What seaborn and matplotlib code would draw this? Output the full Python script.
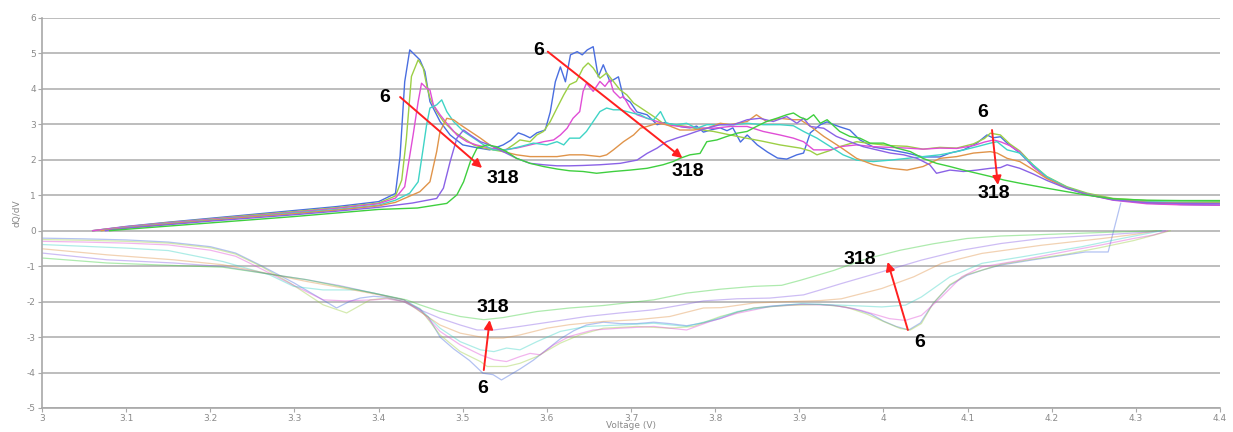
import numpy as np
import pandas as pd
import matplotlib
matplotlib.use("Agg")
import matplotlib.pyplot as plt
import seaborn as sns

# ---------------------------------------------------------------- data
cycles = ["6", "c2", "c3", "c4", "c5", "c6", "318"]
colors = ["#4a6ee0", "#9ccf45", "#e04ed6", "#3fd4c6", "#e0944a", "#8a62e6", "#3fcf3f"]

# charge branch (positive dQ/dV)
chg_v_1 = [3.06, 3.10, 3.15, 3.20, 3.25, 3.30, 3.35, 3.40, 3.42, 3.4255, 3.431, 3.437, 3.449, 3.455, 3.461,
           3.473, 3.485, 3.500, 3.517, 3.532, 3.548, 3.557, 3.566, 3.573, 3.580, 3.588, 3.598, 3.604, 3.610,
           3.616, 3.622, 3.628, 3.636, 3.642, 3.648, 3.655, 3.661, 3.667, 3.675, 3.685, 3.691, 3.699, 3.707,
           3.719, 3.731, 3.740, 3.750, 3.760, 3.770, 3.778, 3.786, 3.796, 3.806, 3.814, 3.821, 3.830, 3.838,
           3.850, 3.862, 3.874, 3.885, 3.897, 3.905, 3.913, 3.925, 3.933, 3.940, 3.948, 3.960, 3.972, 3.988,
           4.008, 4.028, 4.047, 4.067, 4.079, 4.095, 4.111, 4.123, 4.130, 4.139, 4.147, 4.162, 4.178, 4.194,
           4.218, 4.242, 4.273, 4.313, 4.353, 4.40]
chg_q_1 = [0, 0.12, 0.24, 0.35, 0.46, 0.57, 0.68, 0.82, 1.05, 2.1, 4.2, 5.10, 4.82, 4.49, 3.64,
           3.08, 2.70, 2.42, 2.34, 2.28, 2.42, 2.55, 2.76, 2.70, 2.62, 2.76, 2.84, 3.35, 4.2,
           4.62, 4.2, 4.96, 5.05, 4.96, 5.10, 5.19, 4.34, 4.68, 4.2, 4.34, 3.75, 3.63, 3.35,
           3.27, 2.99, 3.05, 2.99, 2.93, 2.90, 2.95, 2.78, 2.85, 2.90, 2.82, 2.90, 2.50, 2.70,
           2.42, 2.22, 2.05, 2.02, 2.14, 2.19, 2.76, 2.99, 3.07, 3.00, 2.93, 2.84, 2.56, 2.36,
           2.28, 2.19, 2.08, 2.08, 2.19, 2.28, 2.47, 2.70, 2.62, 2.65, 2.47, 2.19, 1.81, 1.50,
           1.22, 1.03, 0.88, 0.78, 0.74, 0.72]

chg_v_2 = [3.06, 3.10, 3.15, 3.20, 3.25, 3.30, 3.35, 3.40, 3.42, 3.4275, 3.433, 3.439, 3.447, 3.453, 3.457,
           3.461, 3.469, 3.477, 3.489, 3.501, 3.513, 3.525, 3.536, 3.548, 3.560, 3.568, 3.580, 3.588, 3.596,
           3.604, 3.612, 3.620, 3.627, 3.635, 3.643, 3.649, 3.655, 3.663, 3.671, 3.679, 3.687, 3.695, 3.703,
           3.715, 3.727, 3.738, 3.750, 3.766, 3.782, 3.798, 3.818, 3.837, 3.857, 3.877, 3.901, 3.913, 3.921,
           3.935, 3.948, 3.968, 3.988, 4.008, 4.028, 4.047, 4.067, 4.087, 4.107, 4.120, 4.127, 4.139, 4.150,
           4.162, 4.178, 4.194, 4.218, 4.242, 4.273, 4.313, 4.353, 4.40]
chg_q_2 = [0, 0.11, 0.23, 0.33, 0.44, 0.54, 0.65, 0.78, 0.98, 1.43, 2.6, 4.35, 4.82, 4.59, 4.12,
           3.74, 3.36, 3.08, 2.80, 2.61, 2.42, 2.33, 2.28, 2.23, 2.42, 2.56, 2.51, 2.70, 2.80,
           3.08, 3.46, 3.83, 4.12, 4.21, 4.59, 4.73, 4.59, 4.30, 4.45, 4.21, 3.97, 3.83, 3.60,
           3.41, 3.22, 3.03, 2.99, 2.94, 2.85, 2.80, 2.70, 2.61, 2.52, 2.42, 2.33, 2.25, 2.14,
           2.25, 2.37, 2.51, 2.45, 2.40, 2.38, 2.30, 2.35, 2.33, 2.45, 2.60, 2.75, 2.70, 2.45,
           2.25, 1.85, 1.53, 1.24, 1.06, 0.91, 0.85, 0.84, 0.83]

chg_v_3 = [3.06, 3.10, 3.15, 3.20, 3.25, 3.30, 3.35, 3.40, 3.42, 3.431, 3.441, 3.447, 3.451, 3.457, 3.461,
           3.465, 3.473, 3.481, 3.493, 3.505, 3.516, 3.532, 3.548, 3.564, 3.580, 3.596, 3.608, 3.616, 3.624,
           3.631, 3.639, 3.643, 3.647, 3.655, 3.663, 3.669, 3.675, 3.679, 3.687, 3.691, 3.699, 3.707, 3.719,
           3.731, 3.742, 3.758, 3.770, 3.782, 3.798, 3.818, 3.838, 3.857, 3.877, 3.893, 3.905, 3.917, 3.937,
           3.948, 3.968, 3.988, 4.008, 4.028, 4.047, 4.067, 4.087, 4.107, 4.120, 4.131, 4.140, 4.150, 4.162,
           4.178, 4.194, 4.218, 4.242, 4.273, 4.313, 4.353, 4.40]
chg_q_3 = [0, 0.11, 0.22, 0.32, 0.42, 0.52, 0.63, 0.76, 0.92, 1.24, 2.7, 3.64, 4.16, 4.02, 3.97,
           3.55, 3.27, 3.03, 2.70, 2.51, 2.42, 2.33, 2.28, 2.33, 2.42, 2.51, 2.56, 2.70, 2.89,
           3.17, 3.36, 3.93, 4.16, 3.93, 4.21, 4.07, 4.26, 3.93, 3.74, 3.79, 3.46, 3.27, 3.17,
           3.08, 2.99, 2.94, 2.92, 2.90, 2.89, 2.94, 2.94, 2.80, 2.70, 2.61, 2.51, 2.28, 2.28,
           2.37, 2.42, 2.37, 2.35, 2.33, 2.30, 2.33, 2.32, 2.40, 2.50, 2.56, 2.50, 2.40, 2.22,
           1.80, 1.50, 1.21, 1.02, 0.86, 0.76, 0.73, 0.72]

chg_v_4 = [3.07, 3.10, 3.15, 3.20, 3.25, 3.30, 3.35, 3.40, 3.42, 3.437, 3.447, 3.453, 3.457, 3.461, 3.469,
           3.475, 3.481, 3.489, 3.501, 3.513, 3.525, 3.536, 3.552, 3.568, 3.584, 3.600, 3.612, 3.620, 3.627,
           3.639, 3.647, 3.655, 3.663, 3.671, 3.679, 3.687, 3.695, 3.703, 3.711, 3.719, 3.727, 3.735, 3.742,
           3.754, 3.766, 3.778, 3.790, 3.806, 3.822, 3.838, 3.857, 3.877, 3.893, 3.905, 3.921, 3.937, 3.952,
           3.968, 3.988, 4.008, 4.028, 4.047, 4.067, 4.087, 4.111, 4.127, 4.135, 4.147, 4.162, 4.178, 4.194,
           4.218, 4.242, 4.273, 4.313, 4.353, 4.40]
chg_q_4 = [0, 0.09, 0.20, 0.30, 0.40, 0.50, 0.60, 0.72, 0.86, 1.06, 1.38, 2.33, 2.98, 3.46, 3.55,
           3.69, 3.36, 3.08, 2.80, 2.61, 2.42, 2.28, 2.28, 2.37, 2.47, 2.42, 2.51, 2.42, 2.61,
           2.61, 2.80, 3.08, 3.36, 3.46, 3.41, 3.41, 3.36, 3.31, 3.27, 3.17, 3.13, 3.36, 3.03,
           2.99, 3.03, 2.89, 2.99, 2.99, 2.99, 3.03, 2.99, 2.99, 2.96, 2.80, 2.61, 2.37, 2.14,
           1.99, 1.95, 1.99, 2.04, 2.09, 2.14, 2.23, 2.37, 2.47, 2.51, 2.28, 2.19, 1.85, 1.52,
           1.22, 1.04, 0.89, 0.82, 0.80, 0.80]

chg_v_5 = [3.07, 3.10, 3.15, 3.20, 3.25, 3.30, 3.35, 3.40, 3.42, 3.449, 3.461, 3.469, 3.473, 3.481, 3.489,
           3.497, 3.509, 3.521, 3.532, 3.548, 3.564, 3.580, 3.596, 3.612, 3.627, 3.643, 3.663, 3.671, 3.679,
           3.691, 3.703, 3.711, 3.719, 3.731, 3.742, 3.758, 3.774, 3.790, 3.806, 3.818, 3.838, 3.849, 3.861,
           3.877, 3.893, 3.901, 3.913, 3.929, 3.948, 3.968, 3.988, 4.008, 4.028, 4.047, 4.055, 4.067, 4.087,
           4.107, 4.127, 4.135, 4.147, 4.162, 4.178, 4.194, 4.218, 4.242, 4.273, 4.313, 4.353, 4.40]
chg_q_5 = [0, 0.08, 0.19, 0.29, 0.39, 0.48, 0.58, 0.70, 0.80, 1.10, 1.38, 2.23, 2.80, 3.17, 3.13,
           2.99, 2.80, 2.61, 2.42, 2.23, 2.14, 2.09, 2.09, 2.09, 2.14, 2.14, 2.09, 2.14, 2.28,
           2.51, 2.70, 2.89, 2.94, 3.03, 2.99, 2.84, 2.84, 2.89, 3.03, 2.99, 3.08, 3.27, 3.08,
           3.17, 3.13, 3.13, 2.95, 2.66, 2.37, 2.04, 1.86, 1.76, 1.71, 1.81, 1.90, 2.04, 2.09,
           2.19, 2.23, 2.19, 2.04, 1.95, 1.72, 1.47, 1.20, 1.03, 0.89, 0.80, 0.78, 0.78]

chg_v_6 = [3.075, 3.10, 3.15, 3.20, 3.25, 3.30, 3.35, 3.40, 3.44, 3.469, 3.477, 3.485, 3.493, 3.501, 3.509,
           3.521, 3.532, 3.548, 3.564, 3.580, 3.596, 3.612, 3.627, 3.643, 3.663, 3.687, 3.707, 3.719, 3.731,
           3.742, 3.754, 3.766, 3.778, 3.790, 3.806, 3.822, 3.838, 3.853, 3.869, 3.885, 3.897, 3.905, 3.913,
           3.929, 3.944, 3.960, 3.976, 3.992, 4.008, 4.024, 4.040, 4.055, 4.063, 4.079, 4.095, 4.111, 4.127,
           4.139, 4.147, 4.162, 4.178, 4.194, 4.218, 4.242, 4.273, 4.313, 4.353, 4.40]
chg_q_6 = [0, 0.07, 0.17, 0.27, 0.36, 0.45, 0.55, 0.66, 0.78, 0.91, 1.20, 1.95, 2.61, 2.84, 2.70,
           2.51, 2.42, 2.23, 2.04, 1.90, 1.86, 1.83, 1.83, 1.84, 1.86, 1.90, 1.99, 2.18, 2.33,
           2.51, 2.61, 2.70, 2.80, 2.89, 2.99, 2.99, 3.13, 3.17, 3.08, 3.22, 3.03, 3.17, 2.94,
           2.89, 2.66, 2.51, 2.37, 2.28, 2.19, 2.14, 2.04, 1.86, 1.62, 1.71, 1.67, 1.71, 1.76,
           1.78, 1.86, 1.76, 1.60, 1.42, 1.19, 1.02, 0.87, 0.79, 0.77, 0.76]

chg_v_7 = [3.08, 3.10, 3.15, 3.20, 3.25, 3.30, 3.35, 3.40, 3.446, 3.481, 3.493, 3.501, 3.509, 3.517, 3.529,
           3.540, 3.552, 3.564, 3.580, 3.596, 3.612, 3.627, 3.643, 3.659, 3.679, 3.699, 3.719, 3.738, 3.750,
           3.758, 3.770, 3.782, 3.790, 3.802, 3.814, 3.826, 3.838, 3.849, 3.861, 3.873, 3.885, 3.893, 3.901,
           3.909, 3.917, 3.925, 3.933, 3.948, 3.960, 3.972, 3.984, 4.000, 4.016, 4.032, 4.047, 4.063, 4.079,
           4.095, 4.111, 4.127, 4.143, 4.162, 4.178, 4.194, 4.218, 4.242, 4.273, 4.313, 4.353, 4.40]
chg_q_7 = [0, 0.04, 0.13, 0.22, 0.31, 0.40, 0.50, 0.60, 0.64, 0.77, 1.01, 1.38, 1.95, 2.33, 2.42,
           2.37, 2.23, 2.04, 1.90, 1.81, 1.74, 1.69, 1.67, 1.62, 1.67, 1.71, 1.76, 1.86, 1.95,
           2.04, 2.14, 2.18, 2.51, 2.56, 2.66, 2.75, 2.80, 2.94, 3.08, 3.17, 3.27, 3.32, 3.20,
           3.13, 3.27, 3.03, 3.13, 2.80, 2.66, 2.61, 2.47, 2.47, 2.33, 2.23, 2.04, 1.90, 1.81,
           1.71, 1.62, 1.53, 1.43, 1.34, 1.27, 1.20, 1.10, 1.00, 0.90, 0.86, 0.85, 0.85]

# discharge branch (negative dQ/dV)
dis_v_1 = [3.00, 3.05, 3.10, 3.15, 3.20, 3.23, 3.26, 3.30, 3.33, 3.35, 3.365, 3.378, 3.394, 3.41, 3.43,
           3.445, 3.459, 3.473, 3.489, 3.508, 3.524, 3.536, 3.546, 3.556, 3.568, 3.584, 3.600, 3.616, 3.632,
           3.647, 3.667, 3.687, 3.707, 3.727, 3.746, 3.766, 3.786, 3.806, 3.826, 3.846, 3.865, 3.885, 3.905,
           3.925, 3.945, 3.965, 3.985, 4.000, 4.015, 4.030, 4.044, 4.059, 4.079, 4.099, 4.119, 4.139, 4.178,
           4.218, 4.240, 4.267, 4.282]
dis_q_1 = [-0.21, -0.23, -0.26, -0.32, -0.45, -0.63, -0.98, -1.48, -1.90, -2.18, -2.00, -1.90, -1.85, -1.88, -2.00,
           -2.20, -2.43, -3.00, -3.33, -3.66, -4.02, -4.06, -4.21, -4.07, -3.90, -3.65, -3.35, -3.05, -2.82,
           -2.66, -2.58, -2.62, -2.62, -2.58, -2.62, -2.68, -2.60, -2.48, -2.30, -2.18, -2.13, -2.09, -2.07,
           -2.08, -2.12, -2.20, -2.35, -2.55, -2.70, -2.80, -2.60, -2.05, -1.54, -1.26, -1.10, -0.97, -0.82,
           -0.68, -0.60, -0.60, 0.78]

dis_v_2 = [3.00, 3.05, 3.10, 3.15, 3.20, 3.23, 3.26, 3.295, 3.334, 3.362, 3.39, 3.41, 3.43, 3.449, 3.473,
           3.497, 3.521, 3.529, 3.552, 3.568, 3.588, 3.616, 3.639, 3.667, 3.707, 3.746, 3.774, 3.806, 3.846,
           3.885, 3.925, 3.955, 3.980, 4.000, 4.020, 4.032, 4.045, 4.059, 4.079, 4.099, 4.119, 4.139, 4.178,
           4.218, 4.257, 4.297, 4.341]
dis_q_2 = [-0.25, -0.27, -0.30, -0.35, -0.48, -0.66, -1.00, -1.48, -2.09, -2.32, -1.95, -1.90, -2.00, -2.20, -2.94,
           -3.41, -3.69, -3.83, -3.83, -3.74, -3.55, -3.17, -2.94, -2.75, -2.70, -2.75, -2.70, -2.42, -2.18,
           -2.11, -2.08, -2.15, -2.35, -2.56, -2.76, -2.80, -2.62, -2.05, -1.52, -1.24, -1.10, -0.95, -0.80,
           -0.66, -0.48, -0.28, 0.0]

dis_v_3 = [3.00, 3.05, 3.10, 3.15, 3.20, 3.23, 3.255, 3.30, 3.334, 3.36, 3.394, 3.41, 3.43, 3.449, 3.473,
           3.497, 3.521, 3.537, 3.552, 3.568, 3.580, 3.592, 3.608, 3.627, 3.655, 3.687, 3.727, 3.766, 3.794,
           3.826, 3.865, 3.902, 3.940, 3.974, 4.007, 4.026, 4.045, 4.069, 4.093, 4.117, 4.164, 4.218, 4.257,
           4.297, 4.321, 4.338]
dis_q_3 = [-0.30, -0.32, -0.35, -0.40, -0.55, -0.72, -1.01, -1.55, -1.95, -1.98, -1.95, -1.92, -2.00, -2.22, -2.84,
           -3.22, -3.50, -3.64, -3.69, -3.55, -3.46, -3.50, -3.22, -2.98, -2.80, -2.75, -2.70, -2.80, -2.56,
           -2.33, -2.14, -2.08, -2.10, -2.25, -2.48, -2.53, -2.39, -1.87, -1.30, -1.02, -0.83, -0.58, -0.41,
           -0.22, -0.12, 0.0]

dis_v_4 = [3.00, 3.05, 3.10, 3.15, 3.215, 3.27, 3.299, 3.334, 3.374, 3.394, 3.43, 3.449, 3.473, 3.497, 3.521,
           3.537, 3.552, 3.568, 3.588, 3.616, 3.647, 3.687, 3.727, 3.766, 3.798, 3.826, 3.865, 3.902, 3.950,
           3.998, 4.026, 4.045, 4.079, 4.117, 4.164, 4.236, 4.283, 4.331]
dis_q_4 = [-0.39, -0.44, -0.49, -0.56, -0.87, -1.24, -1.57, -1.67, -1.67, -1.76, -1.95, -2.20, -2.75, -3.13, -3.36,
           -3.41, -3.31, -3.36, -3.13, -2.84, -2.70, -2.66, -2.61, -2.70, -2.51, -2.28, -2.14, -2.06, -2.10,
           -2.15, -2.10, -1.87, -1.30, -0.92, -0.74, -0.45, -0.22, 0.0]

dis_v_5 = [3.00, 3.077, 3.156, 3.215, 3.267, 3.314, 3.354, 3.394, 3.43, 3.449, 3.473, 3.497, 3.517, 3.529, 3.548,
           3.568, 3.600, 3.627, 3.667, 3.707, 3.746, 3.786, 3.807, 3.846, 3.885, 3.925, 3.950, 3.998, 4.036,
           4.069, 4.117, 4.188, 4.260, 4.300, 4.325]
dis_q_5 = [-0.51, -0.68, -0.82, -0.96, -1.20, -1.43, -1.60, -1.78, -1.95, -2.28, -2.66, -2.89, -2.98, -3.03, -3.03,
           -2.94, -2.75, -2.65, -2.56, -2.51, -2.42, -2.18, -2.17, -2.04, -2.00, -1.97, -1.92, -1.63, -1.30,
           -0.92, -0.64, -0.41, -0.22, -0.10, 0.0]

dis_v_6 = [3.00, 3.077, 3.156, 3.215, 3.275, 3.314, 3.354, 3.394, 3.43, 3.449, 3.473, 3.497, 3.517, 3.537, 3.568,
           3.608, 3.647, 3.687, 3.727, 3.766, 3.786, 3.826, 3.865, 3.905, 3.925, 3.950, 3.998, 4.045, 4.093,
           4.140, 4.188, 4.260, 4.300, 4.335]
dis_q_6 = [-0.63, -0.82, -0.91, -1.01, -1.24, -1.38, -1.55, -1.76, -1.95, -2.23, -2.47, -2.66, -2.80, -2.80, -2.70,
           -2.56, -2.42, -2.32, -2.23, -2.07, -1.98, -1.92, -1.90, -1.81, -1.67, -1.49, -1.16, -0.83, -0.55,
           -0.36, -0.22, -0.12, -0.06, 0.0]

dis_v_7 = [3.00, 3.077, 3.156, 3.215, 3.275, 3.314, 3.354, 3.394, 3.433, 3.449, 3.473, 3.497, 3.525, 3.548, 3.588,
           3.627, 3.667, 3.727, 3.766, 3.806, 3.846, 3.879, 3.901, 3.941, 3.980, 4.020, 4.059, 4.099, 4.139,
           4.188, 4.260, 4.330]
dis_q_7 = [-0.77, -0.91, -0.98, -1.03, -1.24, -1.38, -1.57, -1.76, -1.95, -2.09, -2.28, -2.42, -2.51, -2.45, -2.28,
           -2.18, -2.11, -1.95, -1.76, -1.65, -1.57, -1.54, -1.40, -1.12, -0.79, -0.55, -0.37, -0.22, -0.15,
           -0.11, -0.05, 0.0]

x_ticks = [3.0, 3.1, 3.2, 3.3, 3.4, 3.5, 3.6, 3.7, 3.8, 3.9, 4.0, 4.1, 4.2, 4.3, 4.4]
y_ticks = [-5, -4, -3, -2, -1, 0, 1, 2, 3, 4, 5, 6]

chg_v = [chg_v_1, chg_v_2, chg_v_3, chg_v_4, chg_v_5, chg_v_6, chg_v_7]
chg_q = [chg_q_1, chg_q_2, chg_q_3, chg_q_4, chg_q_5, chg_q_6, chg_q_7]
dis_v = [dis_v_1, dis_v_2, dis_v_3, dis_v_4, dis_v_5, dis_v_6, dis_v_7]
dis_q = [dis_q_1, dis_q_2, dis_q_3, dis_q_4, dis_q_5, dis_q_6, dis_q_7]


def long_frame(vs, qs):
    rows = []
    for cyc, v, q in zip(cycles, vs, qs):
        rows.append(pd.DataFrame({"Voltage": v, "dQdV": q, "cycle": cyc,
                                  "order": np.arange(len(v))}))
    return pd.concat(rows, ignore_index=True)


charge_df = long_frame(chg_v, chg_q)
discharge_df = long_frame(dis_v, dis_q)
palette = dict(zip(cycles, colors))

# ---------------------------------------------------------------- figure
sns.set_theme(style="white")
plt.rcParams["font.family"] = ["DejaVu Sans"]

fig = plt.figure(figsize=(12.33, 4.32), dpi=100)
ax = fig.add_axes([0.0341, 0.0556, 0.9554, 0.9028])

sns.lineplot(data=discharge_df, x="Voltage", y="dQdV", hue="cycle", palette=palette,
             estimator=None, sort=False, units="cycle", legend=False,
             linewidth=0.9, alpha=0.42, ax=ax)
sns.lineplot(data=charge_df, x="Voltage", y="dQdV", hue="cycle", palette=palette,
             estimator=None, sort=False, units="cycle", legend=False,
             linewidth=1.0, ax=ax)

ax.set_xlim(3.0, 4.4)
ax.set_ylim(-5, 6)
ax.set_xticks(x_ticks)
ax.set_xticklabels([f"{t:g}" for t in x_ticks])
ax.set_yticks(y_ticks)
ax.set_yticklabels([str(t) for t in y_ticks])

ax.yaxis.grid(True, color="#bdbdbd", linewidth=1.4)
ax.xaxis.grid(False)
ax.set_axisbelow(True)
for side in ("top", "right"):
    ax.spines[side].set_visible(False)
for side in ("left", "bottom"):
    ax.spines[side].set_color("#a8a8a8")
    ax.spines[side].set_linewidth(1.2)
ax.tick_params(axis="both", which="major", direction="out", length=3, width=0.8,
               color="#a8a8a8", labelsize=6.5, labelcolor="#8a8a8a", pad=1.5,
               bottom=True, left=True)

ax.set_xlabel("Voltage (V)", fontsize=6.5, color="#8a8a8a")
ax.xaxis.set_label_coords(0.5, -0.034)
ax.set_ylabel("dQ/dV", fontsize=6.5, color="#8a8a8a", labelpad=4)

# ---------------------------------------------------------------- ageing arrows
arrows = [
    ((3.4255, 3.77), (3.523, 1.77), (3.407, 3.76), (3.548, 1.48)),
    ((3.601, 5.05), (3.761, 2.05), (3.590, 5.08), (3.767, 1.66)),
    ((4.129, 2.84), (4.136, 1.29), (4.118, 3.32), (4.131, 1.06)),
    ((3.525, -3.93), (3.532, -2.52), (3.524, -4.44), (3.536, -2.18)),
    ((4.029, -2.80), (4.005, -0.88), (4.043, -3.14), (3.972, -0.80)),
]
for start, tip, lab_start, lab_end in arrows:
    ax.annotate("", xy=tip, xytext=start,
                arrowprops=dict(arrowstyle="-|>", color="#ff2020", lw=1.4,
                                mutation_scale=13, shrinkA=0, shrinkB=0))
    ax.text(*lab_start, "6", ha="center", va="center", fontsize=14,
            fontweight="bold", family="Liberation Sans", color="black")
    ax.text(*lab_end, "318", ha="center", va="center", fontsize=14,
            fontweight="bold", family="Liberation Sans", color="black")

fig.savefig("out.png", dpi=100)
